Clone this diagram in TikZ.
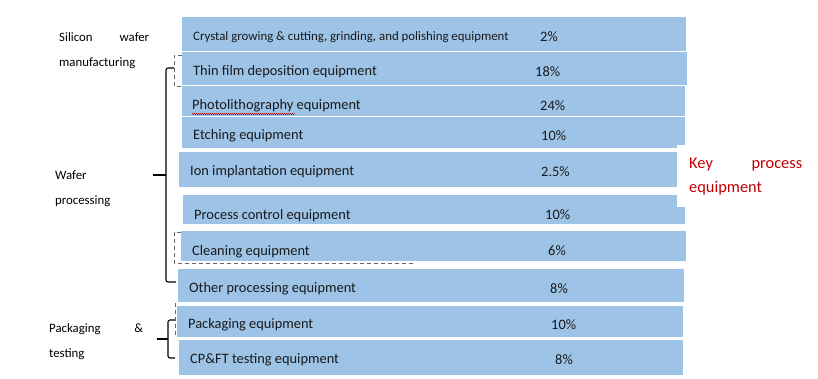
\documentclass[tikz,border=0pt]{standalone}
\usepackage{fontspec}
\setmainfont{Carlito}
\usetikzlibrary{decorations.pathmorphing}
\definecolor{barblue}{HTML}{9DC3E6}
\definecolor{keyred}{HTML}{C00000}
\definecolor{txt}{HTML}{1A1A1A}
\tikzset{
  bar/.style={fill=barblue, draw=none, anchor=north west, inner sep=0pt},
  bartxt/.style={anchor=west, inner sep=0pt, text=txt, font=\fontsize{14.4}{16}\selectfont},
  smalltxt/.style={anchor=west, inner sep=0pt, text=txt, font=\fontsize{12.85}{14}\selectfont},
  pct/.style={anchor=west, inner sep=0pt, text=txt, font=\fontsize{14.4}{16}\selectfont},
  lbl/.style={anchor=north west, inner sep=0pt, align=left, text=black, font=\fontsize{12.8}{25}\selectfont},
  brace/.style={draw=black, line width=1.1pt, rounded corners=2pt},
  dbox/.style={draw=gray!80!black, dashed, dash pattern=on 4pt off 3pt, line width=0.8pt},
}
\begin{document}
\begin{tikzpicture}[x=1pt,y=-1pt]
\useasboundingbox (0,0) rectangle (818,379);

% bars
\node[bar, minimum width=504, minimum height=34] (b1) at (182,17) {};
\node[bar, minimum width=505, minimum height=33] (b2) at (182,52) {};
\node[bar, minimum width=503, minimum height=30] (b3) at (182,86) {};
\node[bar, minimum width=503, minimum height=31] (b4) at (182,117) {};
\node[bar, minimum width=506, minimum height=35] (b5) at (179,152) {};
\node[bar, minimum width=502, minimum height=29] (b6) at (183,195) {};
\node[bar, minimum width=505, minimum height=30] (b7) at (181,231) {};
\node[bar, minimum width=506, minimum height=33] (b8) at (178,269) {};
\node[bar, minimum width=506, minimum height=31] (b9) at (177,306) {};
\node[bar, minimum width=504, minimum height=35] (b10) at (179,340) {};

% bar texts
\node[smalltxt] (t1) at (193,37) {Crystal growing \& cutting, grinding, and polishing equipment};
\node[pct] (p1) at (540,37) {2\%};
\node[bartxt] (t2) at (193,72) {Thin film deposition equipment};
\node[pct] (p2) at (535,72) {18\%};
\node[bartxt] (t3) at (192,106) {Photolithography equipment};
\node[pct] (p3) at (540,106) {24\%};
\node[bartxt] (t4) at (193,136) {Etching equipment};
\node[pct] (p4) at (541,136) {10\%};
\node[bartxt] (t5) at (190,172) {Ion implantation equipment};
\node[pct] (p5) at (541,172) {2.5\%};
\begin{scope}
  \clip (183,195) rectangle (685,224);
  \node[bartxt] (t6) at (194,216) {Process control equipment};
\end{scope}
\node[pct] (p6) at (545,215) {10\%};
\begin{scope}
  \clip (181,231) rectangle (686,261);
  \node[bartxt] (t7) at (192,252) {Cleaning equipment};
\end{scope}
\node[pct] (p7) at (548,251) {6\%};
\node[bartxt] (t8) at (189,289) {Other processing equipment};
\node[pct] (p8) at (550,289) {8\%};
\node[bartxt] (t9) at (188,325) {Packaging equipment};
\node[pct] (p9) at (551,325) {10\%};
\node[bartxt] (t10) at (190,360) {CP\&FT testing equipment};
\node[pct] (p10) at (555,360) {8\%};

% spell-check underline
\draw[keyred, line width=0.5pt, decorate, decoration={snake, amplitude=0.6pt, segment length=2pt}]
  (192,114) -- (295,114);

% dashed key-process outline
\draw[dbox] (182,55) -- (174,55) -- (174,86) -- (182,86);
\draw[dbox] (181,232) -- (174,232) -- (174,263) -- (413,263) -- (413,260);
\draw[dbox] (175,303) -- (175,337);

% key process label
\node[fill=white, anchor=north west, minimum width=141, minimum height=62, inner sep=0pt] (kbox) at (677,145) {};
\node[anchor=north west, inner sep=0pt, text width=113, align=left, text=keyred,
      font=\fontsize{16.4}{24}\selectfont] (key) at (689,158) {Key\hfill process\\equipment};

% braces
\draw[brace] (174,68) -- (166,68) -- (166,282) -- (176,282);
\draw[brace] (153,175) -- (166,175);
\draw[brace] (175,320) -- (168,320) -- (168,358) -- (175,358);
\draw[brace] (157,339) -- (168,339);

% left labels
\node[lbl, text width=90] (l1) at (59,32) {Silicon\hfill wafer\\manufacturing};
\node[lbl, text width=70] (l2) at (55,171) {Wafer\\processing};
\node[lbl, text width=94] (l3) at (49,323) {Packaging\hfill \&\\testing};
\end{tikzpicture}
\end{document}
